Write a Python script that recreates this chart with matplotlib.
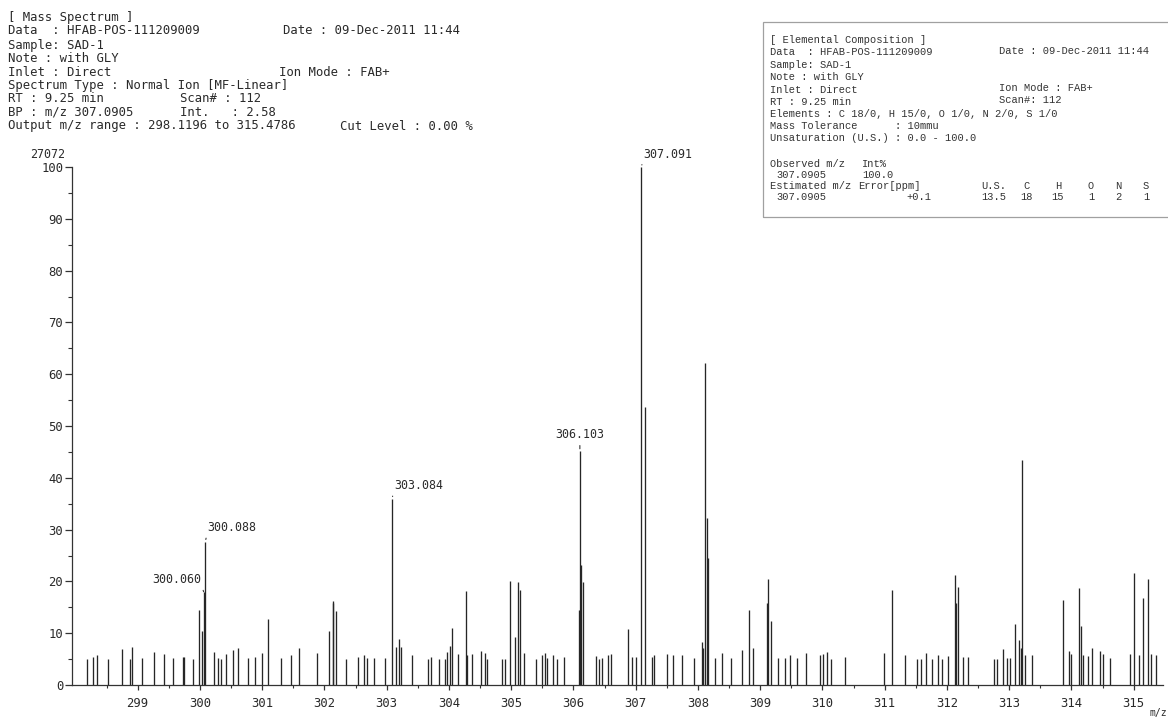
import matplotlib
matplotlib.use("Agg")
import matplotlib.pyplot as plt
from matplotlib.patches import Rectangle

# peak list: m/z and relative intensity (%)
mz = [298.192, 298.289, 298.342, 298.519, 298.756, 298.874, 298.906, 299.067,
      299.265, 299.421, 299.566, 299.722, 299.738, 299.883, 299.980, 300.038,
      300.060, 300.088, 300.221, 300.286, 300.339, 300.420, 300.537, 300.618,
      300.774, 300.882, 300.999, 301.101, 301.300, 301.461, 301.584, 301.877,
      302.074, 302.130, 302.145, 302.187, 302.348, 302.536, 302.632, 302.685,
      302.798, 302.980, 303.084, 303.152, 303.195, 303.237, 303.414, 303.661,
      303.714, 303.848, 303.935, 303.976, 304.009, 304.052, 304.148, 304.266,
      304.293, 304.369, 304.507, 304.578, 304.610, 304.851, 304.899, 304.980,
      305.065, 305.108, 305.134, 305.198, 305.398, 305.488, 305.536, 305.579,
      305.665, 305.740, 305.853, 306.083, 306.103, 306.126, 306.153, 306.362,
      306.404, 306.464, 306.549, 306.603, 306.882, 306.935, 306.999, 307.091,
      307.146, 307.263, 307.288, 307.509, 307.594, 307.745, 307.931, 308.066,
      308.087, 308.119, 308.141, 308.163, 308.280, 308.388, 308.526, 308.714,
      308.816, 308.886, 309.116, 309.132, 309.169, 309.293, 309.406, 309.486,
      309.594, 309.732, 309.964, 310.005, 310.065, 310.129, 310.365, 310.986,
      311.115, 311.324, 311.512, 311.587, 311.661, 311.758, 311.854, 311.925,
      312.015, 312.128, 312.144, 312.182, 312.263, 312.337, 312.750, 312.803,
      312.899, 312.964, 313.007, 313.099, 313.163, 313.189, 313.211, 313.259,
      313.365, 313.870, 313.960, 313.992, 314.128, 314.149, 314.185, 314.266,
      314.325, 314.465, 314.507, 314.626, 314.941, 315.012, 315.081, 315.156,
      315.230, 315.274, 315.365]
intensity = [5.0, 5.5, 5.7, 5.1, 6.9, 5.0, 7.3, 5.3,
             6.3, 5.9, 5.3, 5.4, 5.4, 5.1, 14.5, 10.4,
             18.0, 27.7, 6.3, 5.3, 5.0, 5.9, 6.7, 7.1,
             5.3, 5.4, 6.2, 12.8, 5.3, 5.7, 7.2, 6.1,
             10.4, 15.8, 16.3, 14.3, 5.0, 5.5, 5.8, 5.3,
             5.3, 5.2, 36.0, 7.3, 8.9, 7.4, 5.7, 5.1,
             5.5, 5.0, 5.1, 6.3, 7.5, 11.0, 5.9, 18.2,
             5.7, 6.0, 6.5, 6.1, 5.0, 5.1, 5.0, 20.1,
             9.2, 19.9, 18.3, 6.1, 5.0, 5.7, 6.1, 5.3,
             5.7, 5.0, 5.5, 14.5, 45.2, 23.2, 19.8, 5.6,
             5.1, 5.3, 5.8, 6.0, 10.8, 5.5, 5.4, 100.0,
             53.7, 5.5, 5.7, 6.0, 5.7, 5.7, 5.2, 8.3,
             7.1, 62.1, 32.2, 24.5, 5.3, 6.1, 5.2, 6.7,
             14.5, 7.1, 15.8, 20.5, 12.3, 5.3, 5.2, 5.7,
             5.2, 6.1, 5.7, 5.9, 6.3, 5.1, 5.5, 6.2,
             18.3, 5.8, 5.1, 5.0, 6.1, 5.1, 5.7, 5.0,
             5.6, 21.3, 15.8, 19.0, 5.5, 5.5, 5.0, 5.0,
             6.9, 5.3, 5.3, 11.8, 8.7, 7.1, 43.4, 5.7,
             5.7, 16.4, 6.6, 5.9, 18.7, 11.3, 5.7, 5.6,
             7.1, 6.5, 6.0, 5.2, 5.9, 21.6, 5.7, 16.8,
             20.4, 6.0, 5.8]

labeled = ["300.060", "300.088", "303.084", "306.103", "307.091"]
x_ticks = list(range(299, 316))
y_ticks = list(range(0, 101, 10))

W, H = 1168, 720
def fx(x):
    return x / W
def fy(y):
    return 1 - y / H

mono = "DejaVu Sans Mono"
cour = "Liberation Mono"
ink = "#2a2a2a"

fig = plt.figure(figsize=(W / 100, H / 100), dpi=100)
ax = fig.add_axes([fx(72), fy(685), (1163 - 72) / W, 518 / H])

ax.vlines(mz, 0, intensity, colors="#262626", linewidth=0.95, clip_on=False)
ax.set_xlim(297.945, 315.47)
ax.set_ylim(0, 100)

for s in ["top", "right"]:
    ax.spines[s].set_visible(False)
for s in ["left", "bottom"]:
    ax.spines[s].set_color("#333333")
    ax.spines[s].set_linewidth(0.9)

ax.set_xticks(x_ticks)
ax.set_xticks([t + 0.5 for t in range(298, 315)], minor=True)
ax.set_yticks(y_ticks)
ax.set_yticks(range(5, 100, 10), minor=True)
ax.tick_params(axis="both", which="major", direction="out", colors="#333333",
               labelcolor=ink, labelsize=8.8, width=0.9)
ax.tick_params(axis="x", which="major", length=3.8, pad=5)
ax.tick_params(axis="x", which="minor", length=2.2, width=0.8, colors="#333333")
ax.tick_params(axis="y", which="major", length=4.8, pad=1.5)
ax.tick_params(axis="y", which="minor", length=2.6, width=0.8, colors="#333333")
for lab in ax.get_xticklabels() + ax.get_yticklabels():
    lab.set_family(mono)

# peak labels with short leader strokes
offsets = {"300.060": (-2, 12, "right", (1, 0)),
           "300.088": (1.5, 14, "left", (0, 0)),
           "303.084": (2, 13, "left", (0, 0)),
           "306.103": (0, 16, "center", (0.5, 0)),
           "307.091": (1.5, 13, "left", (0, 0))}
for lab in labeled:
    i = mz.index(float(lab))
    dx, dy, ha, rp = offsets[lab]
    ax.annotate(lab, xy=(mz[i], intensity[i]), xytext=(dx, dy),
                textcoords="offset pixels", ha=ha, va="center",
                fontsize=8.4, family=mono, color=ink,
                arrowprops=dict(arrowstyle="-", color="#333333", lw=0.8,
                                relpos=rp, shrinkA=1, shrinkB=1.5))

fig.text(fx(48), fy(155), "27072", ha="center", va="center", fontsize=8.4,
         family=mono, color=ink)
fig.text(fx(1158), fy(713), "m/z", ha="center", va="center", fontsize=7,
         family=mono, color=ink)

# spectrum header
header = [
    (8, 17, "[ Mass Spectrum ]"),
    (8, 31, "Data  : HFAB-POS-111209009"),
    (283, 31, "Date : 09-Dec-2011 11:44"),
    (8, 45, "Sample: SAD-1"),
    (8, 58, "Note : with GLY"),
    (8, 72, "Inlet : Direct"),
    (279, 72, "Ion Mode : FAB+"),
    (8, 86, "Spectrum Type : Normal Ion [MF-Linear]"),
    (8, 99, "RT : 9.25 min"),
    (180, 99, "Scan# : 112"),
    (8, 112, "BP : m/z 307.0905"),
    (180, 112, "Int.   : 2.58"),
    (8, 126, "Output m/z range : 298.1196 to 315.4786"),
    (340, 126, "Cut Level : 0.00 %"),
]
for x, y, t in header:
    fig.text(fx(x), fy(y), t, ha="left", va="center", fontsize=8.8,
             family=mono, color=ink)

# elemental composition box
fig.add_artist(Rectangle((fx(763), fy(217)), (W + 20 - 763) / W, (217 - 22) / H,
                         transform=fig.transFigure, fill=False,
                         edgecolor="#a0a0a0", linewidth=0.9))
box = [
    (770, 40, "[ Elemental Composition ]", "left"),
    (770, 52, "Data  : HFAB-POS-111209009", "left"),
    (999, 51, "Date : 09-Dec-2011 11:44", "left"),
    (770, 64.5, "Sample: SAD-1", "left"),
    (770, 77, "Note : with GLY", "left"),
    (770, 90, "Inlet : Direct", "left"),
    (999, 88, "Ion Mode : FAB+", "left"),
    (770, 102, "RT : 9.25 min", "left"),
    (999, 100, "Scan#: 112", "left"),
    (770, 114, "Elements : C 18/0, H 15/0, O 1/0, N 2/0, S 1/0", "left"),
    (770, 126, "Mass Tolerance      : 10mmu", "left"),
    (770, 138, "Unsaturation (U.S.) : 0.0 - 100.0", "left"),
    (770, 164, "Observed m/z", "left"),
    (862, 164, "Int%", "left"),
    (776, 175, "307.0905", "left"),
    (862, 175, "100.0", "left"),
    (770, 186, "Estimated m/z", "left"),
    (858, 186, "Error[ppm]", "left"),
    (776, 197, "307.0905", "left"),
    (906, 197, "+0.1", "left"),
]
cols = [(994, "U.S.", "13.5"), (1027, "C", "18"), (1058, "H", "15"),
        (1091, "O", "1"), (1118, "N", "2"), (1146, "S", "1")]
for x, head, val in cols:
    box.append((x, 186, head, "center"))
    box.append((x, 197, val, "center"))
for x, y, t, ha in box:
    fig.text(fx(x), fy(y), t, ha=ha, va="center", fontsize=7.5,
             family=cour, color="#333333")

fig.savefig("out.png", dpi=100)
